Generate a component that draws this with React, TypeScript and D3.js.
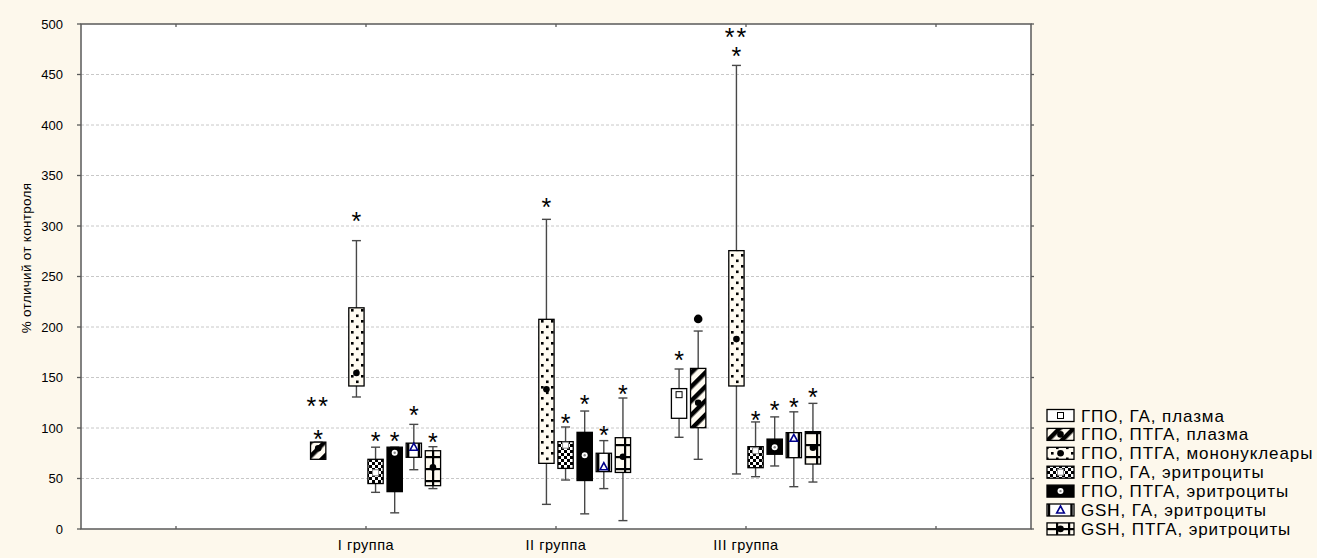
import React from "react";
import * as d3 from "d3";

// ---------- DATA ----------
const groups = ["I группа", "II группа", "III группа"];
const seriesNames = [
  "ГПО, ГА, плазма",
  "ГПО, ПТГА, плазма",
  "ГПО, ПТГА, мононуклеары",
  "ГПО, ГА, эритроциты",
  "ГПО, ПТГА, эритроциты",
  "GSH, ГА, эритроциты",
  "GSH, ПТГА, эритроциты",
];
// slot of each series inside a group (slot 2 is empty)
const seriesSlots = [0, 1, 3, 4, 5, 6, 7];

type Stat = [number, number, number, number, number] | null; // [min, q1, median, q3, max]
const s1Stats: Stat[] = [null, null, [90.8, 109.6, 133, 139, 158.4]];
const s2Stats: Stat[] = [[69, 69, 80, 86, 86], null, [69, 100.3, 125, 159, 196]];
const s3Stats: Stat[] = [
  [130.7, 141.6, 154.5, 219, 285.5],
  [24.4, 65, 138.3, 207.6, 306.6],
  [54.5, 141.6, 188, 275.6, 459],
];
const s4Stats: Stat[] = [
  [36.3, 45, 55.7, 69, 81],
  [48.5, 60, 83, 86.5, 101],
  [51.8, 60.7, 77.5, 81.5, 106],
];
const s5Stats: Stat[] = [
  [16, 37, 75.5, 81, 81],
  [15, 48, 73, 95.7, 116.8],
  [62.4, 74, 81, 89, 111],
];
const s6Stats: Stat[] = [
  [58.7, 71, 81, 85, 103.6],
  [40, 56.8, 61.7, 75, 87.5],
  [41.9, 70.6, 89.8, 95.4, 116],
];
const s7Stats: Stat[] = [
  [40, 42.9, 61, 77.5, 81.5],
  [8.3, 56, 71.6, 90.4, 129.7],
  [46.5, 64.3, 80.5, 96.4, 124.4],
];
const allStats = [s1Stats, s2Stats, s3Stats, s4Stats, s5Stats, s6Stats, s7Stats];

const outliers = [{ series: 1, group: 2, value: 208 }];

// significance marks (value = level of the mark centre)
const starMarks = [
  { series: 1, group: 0, text: "*", value: 93 },
  { series: 1, group: 0, text: "**", value: 125 },
  { series: 2, group: 0, text: "*", value: 308 },
  { series: 3, group: 0, text: "*", value: 91 },
  { series: 4, group: 0, text: "*", value: 91 },
  { series: 5, group: 0, text: "*", value: 116 },
  { series: 6, group: 0, text: "*", value: 90 },
  { series: 2, group: 1, text: "*", value: 322 },
  { series: 3, group: 1, text: "*", value: 108 },
  { series: 4, group: 1, text: "*", value: 127 },
  { series: 5, group: 1, text: "*", value: 97 },
  { series: 6, group: 1, text: "*", value: 137.6 },
  { series: 0, group: 2, text: "*", value: 170.6 },
  { series: 2, group: 2, text: "*", value: 472 },
  { series: 2, group: 2, text: "**", value: 491 },
  { series: 3, group: 2, text: "*", value: 111 },
  { series: 4, group: 2, text: "*", value: 121 },
  { series: 5, group: 2, text: "*", value: 124 },
  { series: 6, group: 2, text: "*", value: 134 },
];

const yTicks = [0, 50, 100, 150, 200, 250, 300, 350, 400, 450, 500];
const yTitle = "% отличий от контроля";

// ---------- STYLE ----------
const W = 1317;
const H = 558;
const M = { left: 81, right: 1031, top: 24, bottom: 529 };
const BG = "#fdf8ec";
const CREAM = "#fffbf1";
const FONT = "Arial, 'Liberation Sans', sans-serif";
const fills = ["#ffffff", "url(#pDiag)", "url(#pDots)", "url(#pCheck)", "#000000", "#ffffff", "url(#pGrid)"];
const markers = ["square", "dot", "dot", "wsquare", "ring", "triangle", "dot"];

function Marker({ kind, cx, cy }: { kind: string; cx: number; cy: number }) {
  switch (kind) {
    case "square":
      return <rect x={cx - 3} y={cy - 3} width={6} height={6} fill="#fff" stroke="#000" strokeWidth={1} />;
    case "wsquare":
      return <rect x={cx - 3} y={cy - 3} width={6} height={6} fill="#fff" stroke="#888" strokeWidth={1} />;
    case "ring":
      return (
        <g>
          <circle cx={cx} cy={cy} r={3} fill="#fff" />
          <circle cx={cx} cy={cy} r={1.2} fill="#888" />
        </g>
      );
    case "triangle":
      return (
        <path
          d={`M${cx},${cy - 4}L${cx + 3.8},${cy + 3}L${cx - 3.8},${cy + 3}Z`}
          fill="#fff"
          stroke="#00008b"
          strokeWidth={1.6}
        />
      );
    default:
      return <circle cx={cx} cy={cy} r={3.3} fill="#000" />;
  }
}

function BoxShape({ si, x0, w, yTop, yBot }: { si: number; x0: number; w: number; yTop: number; yBot: number }) {
  return (
    <g>
      <rect x={x0} y={yTop} width={w} height={Math.max(0, yBot - yTop)} fill={fills[si]} stroke="#000" strokeWidth={1.3} />
      {si === 5 && (
        <g stroke="#000" strokeWidth={2.4}>
          <line x1={x0 + 2} x2={x0 + 2} y1={yTop} y2={yBot} />
          <line x1={x0 + w - 2.5} x2={x0 + w - 2.5} y1={yTop} y2={yBot} />
        </g>
      )}
    </g>
  );
}

export default function App() {
  const x = d3.scaleLinear().domain([0, 5]).range([M.left, M.right]);
  const y = d3.scaleLinear().domain([0, 500]).range([M.bottom, M.top]);
  const slot = d3
    .scaleBand<number>()
    .domain(d3.range(8))
    .range([-76.5, 76.5])
    .paddingInner(0.2)
    .paddingOuter(0.1);
  const bw = slot.bandwidth();
  const cx = (si: number, gi: number) => x(gi + 1.5) + (slot(seriesSlots[si]) as number) + bw / 2;
  const xTickVals = d3.range(0.5, 5, 1);

  const legendX = 1047;
  const legendY0 = 415.5;
  const legendStep = 18.9;
  const starSize = 25;

  // stacked marks of one box are drawn as one text element
  const markGroups = Array.from(
    d3.group(starMarks, (d) => `${d.series}-${d.group}`),
    ([key, marks]) => ({ key, marks })
  );

  return (
    <svg
      width={W}
      height={H}
      style={{ position: "absolute", left: 0, top: 0, background: BG }}
      fontFamily={FONT}
    >
      <defs>
        <pattern id="pDiag" patternUnits="userSpaceOnUse" width={10} height={10} patternTransform="rotate(-45)">
          <rect width={10} height={10} fill={CREAM} />
          <rect width={10} height={4.5} fill="#000" />
        </pattern>
        <pattern id="pDots" patternUnits="userSpaceOnUse" width={10} height={11}>
          <rect width={10} height={11} fill={CREAM} />
          <rect x={1} y={1} width={2.6} height={2.6} fill="#000" />
          <rect x={6} y={6.5} width={2.6} height={2.6} fill="#000" />
        </pattern>
        <pattern id="pCheck" patternUnits="userSpaceOnUse" width={6} height={6}>
          <rect width={6} height={6} fill="#fff" />
          <rect width={3} height={3} fill="#000" />
          <rect x={3} y={3} width={3} height={3} fill="#000" />
        </pattern>
        <pattern id="pGrid" patternUnits="userSpaceOnUse" width={12} height={12}>
          <rect width={12} height={12} fill={CREAM} />
          <rect width={12} height={2.2} fill="#000" />
          <rect width={2.2} height={12} fill="#000" />
        </pattern>
      </defs>

      {/* plot area */}
      <rect x={M.left} y={M.top} width={M.right - M.left} height={M.bottom - M.top} fill="#fff" />

      {/* gridlines */}
      {yTicks
        .filter((t) => t > 0 && t < 500)
        .map((t) => (
          <line
            key={"g" + t}
            x1={M.left}
            x2={M.right}
            y1={y(t)}
            y2={y(t)}
            stroke="#c8c8c8"
            strokeWidth={1}
            strokeDasharray="3,2"
          />
        ))}

      {/* boxes */}
      {allStats.map((stats, si) =>
        stats.map((s, gi) => {
          if (!s) return null;
          const c = cx(si, gi);
          const [mn, q1, md, q3, mx] = s;
          return (
            <g key={`b${si}-${gi}`}>
              <line x1={c} x2={c} y1={y(mx)} y2={y(mn)} stroke="#484848" strokeWidth={1.4} />
              <line x1={c - 4.5} x2={c + 4.5} y1={y(mx)} y2={y(mx)} stroke="#484848" strokeWidth={1.4} />
              <line x1={c - 4.5} x2={c + 4.5} y1={y(mn)} y2={y(mn)} stroke="#484848" strokeWidth={1.4} />
              <BoxShape si={si} x0={c - bw / 2} w={bw} yTop={y(q3)} yBot={y(q1)} />
              <Marker kind={markers[si]} cx={c} cy={y(md)} />
            </g>
          );
        })
      )}

      {/* outliers */}
      {outliers.map((o, i) => (
        <circle key={"o" + i} cx={cx(o.series, o.group)} cy={y(o.value)} r={4.3} fill="#000" />
      ))}

      {/* significance stars */}
      {markGroups.map(({ key, marks }) => {
        const close =
          marks.length > 1 &&
          Math.abs(y(marks[0].value) - y(marks[marks.length - 1].value)) < starSize;
        if (close) {
          return (
            <text key={"s" + key} textAnchor="middle" fontSize={starSize} fill="#000">
              {marks.map((m, j) => (
                <tspan
                  key={j}
                  x={cx(m.series, m.group)}
                  y={y(m.value) + starSize * 0.5}
                  letterSpacing={m.text.length > 1 ? 2 : 0}
                >
                  {m.text}
                </tspan>
              ))}
            </text>
          );
        }
        return marks.map((m, j) => (
          <text
            key={"s" + key + j}
            x={cx(m.series, m.group)}
            y={y(m.value) + starSize * 0.5}
            textAnchor="middle"
            fontSize={starSize}
            letterSpacing={m.text.length > 1 ? 2 : 0}
            fill="#000"
          >
            {m.text}
          </text>
        ));
      })}

      {/* frame */}
      <rect
        x={M.left}
        y={M.top}
        width={M.right - M.left}
        height={M.bottom - M.top}
        fill="none"
        stroke="#5a5a5a"
        strokeWidth={1.5}
      />

      {/* y ticks */}
      {yTicks.map((t) => (
        <g key={"yt" + t}>
          <line x1={M.left - 4} x2={M.left} y1={y(t)} y2={y(t)} stroke="#5a5a5a" strokeWidth={1.3} />
          <line x1={M.right} x2={M.right + 3} y1={y(t)} y2={y(t)} stroke="#5a5a5a" strokeWidth={1.3} />
          <text x={M.left - 18} y={y(t) + 4.5} textAnchor="end" fontSize={13} fill="#000">
            {t}
          </text>
        </g>
      ))}

      {/* x ticks */}
      {xTickVals.map((v) => (
        <g key={"xt" + v}>
          <line x1={x(v)} x2={x(v)} y1={M.bottom} y2={M.bottom - 3} stroke="#5a5a5a" strokeWidth={1.3} />
          <line x1={x(v)} x2={x(v)} y1={M.top} y2={M.top + 3} stroke="#5a5a5a" strokeWidth={1.3} />
        </g>
      ))}
      {groups.map((g, gi) => (
        <text
          key={"xl" + gi}
          x={x(gi + 1.5)}
          y={550}
          textAnchor="middle"
          fontSize={14.5}
          letterSpacing={0.5}
          fill="#000"
        >
          {g}
        </text>
      ))}

      {/* y title */}
      <text
        transform={`translate(31,258) rotate(-90)`}
        textAnchor="middle"
        fontSize={13.5}
        letterSpacing={0.3}
        fill="#000"
      >
        {yTitle}
      </text>

      {/* legend */}
      {seriesNames.map((n, si) => {
        const cy = legendY0 + si * legendStep;
        const x0 = legendX;
        const w = 27;
        const h = 12;
        return (
          <g key={"l" + si}>
            <BoxShape si={si} x0={x0} w={w} yTop={cy - h / 2} yBot={cy + h / 2} />
            <Marker kind={markers[si]} cx={x0 + w / 2} cy={cy} />
            <text x={x0 + 34} y={cy + 6} fontSize={17} letterSpacing={0.9} fill="#000">
              {n}
            </text>
          </g>
        );
      })}
    </svg>
  );
}
